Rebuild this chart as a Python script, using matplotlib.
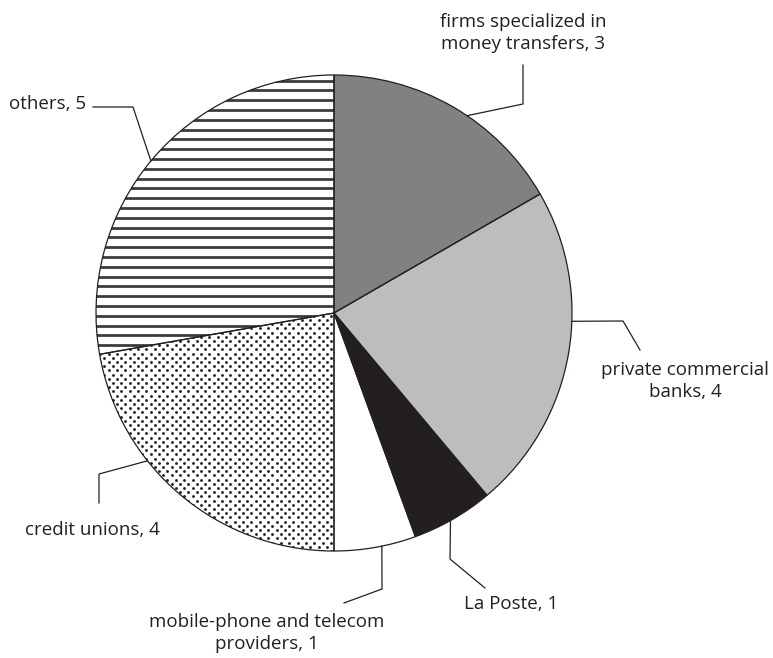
import numpy as np
import matplotlib
matplotlib.use("Agg")
import matplotlib.pyplot as plt

# ---- data ----
categories = ["firms specialized in\nmoney transfers", "private commercial\nbanks", "La Poste",
              "mobile-phone and telecom\nproviders", "credit unions", "others"]
values = [3, 4, 1, 1, 4, 5]
label_texts = [f"{c}, {v}" for c, v in zip(categories, values)]

# ---- styling / layout ----
W, H = 773, 658
face_colors = ["#808183", "#bcbdbf", "#231f20", "#ffffff", "#ffffff", "#ffffff"]
hatch_kind = [None, None, None, None, "dots", "lines"]
CX, CY, R = 334, 313, 238          # pie centre & radius in pixel (top-down) coords
# anchor angle on the rim (deg), elbow point, end point, text pos, alignment (pixel coords, y down)
leaders = [
    (56,   (523, 104), (523, 65),  (523, 33),  "center", "center"),
    (-2,   (623, 321), (640, 350), (685, 381), "center", "center"),
    (-60.7, (450, 559), (485, 588), (464, 604), "left",  "center"),
    (-78.4, (382, 589), (344, 603), (267, 633), "center", "center"),
    (218.4, (99, 474),  (99, 503),  (92, 530),  "center", "center"),
    (140.3, (133, 107), (93, 107),  (86, 104),  "right", "center"),
]

plt.rcParams['font.family'] = ['Open Sans', 'DejaVu Sans']

fig = plt.figure(figsize=(W / 100, H / 100), dpi=100)
ax = fig.add_axes([0, 0, 1, 1])


def P(x, y):
    return x, H - y


center = P(CX, CY)
wedges, _ = ax.pie(values, colors=face_colors, startangle=90, counterclock=False,
                   center=center, radius=R, frame=True,
                   wedgeprops=dict(edgecolor="none", linewidth=0))

# hatches
for w, kind in zip(wedges, hatch_kind):
    if kind == "lines":
        ys = np.arange(center[1] - R, center[1] + R, 9.8)
        for yy in ys:
            ln, = ax.plot([center[0] - R - 5, center[0] + R + 5], [yy, yy],
                          color="#3c3c3c", lw=2.0, solid_capstyle="butt", zorder=2)
            ln.set_clip_path(w)
    elif kind == "dots":
        pts = []
        step = 4.2
        rows = np.arange(center[1] - R, center[1] + R, step)
        for i, yy in enumerate(rows):
            off = (i % 2) * step
            xs = np.arange(center[0] - R + off, center[0] + R, 2 * step)
            pts.extend([(x, yy) for x in xs])
        pts = np.array(pts)
        sc = ax.scatter(pts[:, 0], pts[:, 1], s=4.2, marker="o", color="#231f20",
                        linewidths=0, zorder=2)
        sc.set_clip_path(w)

# outlines on top
edges, _ = ax.pie(values, colors=["none"] * len(values), startangle=90, counterclock=False,
                  center=center, radius=R, frame=True,
                  wedgeprops=dict(edgecolor="#231f20", linewidth=0.9, fill=False, zorder=3))

# leader lines + labels
for (ang, elbow, end, tpos, ha, va), txt in zip(leaders, label_texts):
    a = np.deg2rad(ang)
    sx = center[0] + R * np.cos(a)
    sy = center[1] + R * np.sin(a)
    ex, ey = P(*elbow)
    fx, fy = P(*end)
    ax.plot([sx, ex, fx], [sy, ey, fy], color="#231f20", lw=0.9, zorder=4)
    tx, ty = P(*tpos)
    ax.text(tx, ty, txt, ha=ha, va=va, fontsize=13.5, color="#231f20",
            linespacing=1.3, multialignment="center")

ax.set_xlim(0, W)
ax.set_ylim(0, H)
ax.set_aspect("equal")
ax.axis("off")

fig.savefig("out.png", dpi=100)
